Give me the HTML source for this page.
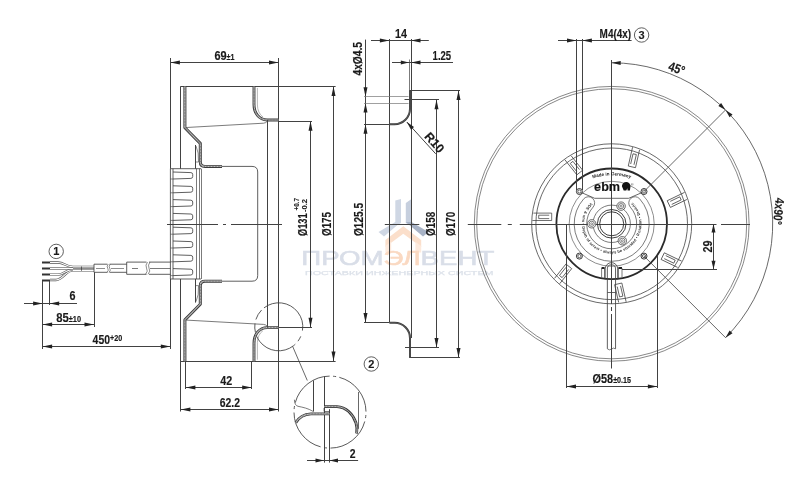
<!DOCTYPE html>
<html><head><meta charset="utf-8"><title>ebm drawing</title>
<style>
html,body{margin:0;padding:0;background:#fff;}
body{width:800px;height:477px;overflow:hidden;}
svg{display:block;font-family:"Liberation Sans",sans-serif;will-change:transform;opacity:0.999;}
</style></head><body>
<svg width="800" height="477" viewBox="0 0 800 477">
<rect width="800" height="477" fill="#ffffff"/>
<g opacity="1">
<polygon points="395.3,200.5 401,199 401,223 395.3,226" fill="#cfd7e4"/>
<polygon points="405.8,203 411.5,199 411.5,226 405.8,223" fill="#c6cfde"/>
<polygon points="395.3,222 401,222 384,236.5 378.5,232" fill="#cfd7e4"/>
<polygon points="405.8,222 411.5,222 428.5,232 423,236.5" fill="#a8b3c6"/>
<path d="M403.3,226.2 L421.2,240 V247 L403.3,233.8 L385.4,247 V240 Z" fill="#fbdfcb"/>
<path d="M385.4,246 L391.2,241.8 V252.5 H385.4 Z M421.2,246 L415.4,241.8 V252.5 H421.2 Z" fill="#fdeadd"/>
<text x="301.3" y="265.1" font-size="20.5" textLength="193" lengthAdjust="spacingAndGlyphs" fill="#d9dee8" stroke="#d9dee8" stroke-width="0.6" font-weight="normal"><tspan>ПРОМ</tspan><tspan fill="#fad9c2" stroke="#fad9c2">ЭЛ</tspan><tspan>ВЕНТ</tspan></text>
<text x="305" y="275.3" font-size="6.2" textLength="188.5" lengthAdjust="spacingAndGlyphs" fill="#dde2ea" stroke="#dde2ea" stroke-width="0.25" font-weight="normal">ПОСТАВКИ ИНЖЕНЕРНЫХ СИСТЕМ</text>
</g>
<line x1="170.5" y1="58" x2="170.5" y2="168.7" stroke="#424242" stroke-width="1.0" />
<line x1="278.5" y1="58" x2="278.5" y2="411.5" stroke="#424242" stroke-width="1.0" />
<line x1="170.4" y1="62.5" x2="278.5" y2="62.5" stroke="#424242" stroke-width="1.0" />
<polygon points="170.40,62.50 179.90,60.50 179.90,64.50" fill="#222"/>
<polygon points="278.50,62.50 269.00,64.50 269.00,60.50" fill="#222"/>
<text x="214.5" y="59.8" font-size="13" text-anchor="start" font-weight="bold" fill="#1a1a1a" stroke="#1a1a1a" stroke-width="0.16" textLength="20" lengthAdjust="spacingAndGlyphs" >69<tspan font-size="8.5" font-weight="bold">±1</tspan></text>
<line x1="180.5" y1="86.5" x2="335.6" y2="86.5" stroke="#424242" stroke-width="1.0" />
<line x1="180.5" y1="361.5" x2="335.6" y2="361.5" stroke="#424242" stroke-width="1.0" />
<line x1="180.5" y1="86.4" x2="180.5" y2="168.7" stroke="#424242" stroke-width="1.0" />
<line x1="180.5" y1="279" x2="180.5" y2="361.1" stroke="#424242" stroke-width="1.0" />
<path d="M184.9,86.4 V127.70 L200.3,143.40 V162.00 Q200.3,166.40 205,166.40 H222" stroke="#3a3a3a" stroke-width="3.0" fill="none" stroke-linejoin="round"/>
<path d="M184.9,86.4 V127.70 L200.3,143.40 V162.00 Q200.3,166.40 205,166.40 H222" stroke="#cfcfcf" stroke-width="1.2" fill="none" stroke-linejoin="round"/>
<path d="M184.9,86.4 V127.70 L200.3,143.40 V162.00 Q200.3,166.40 205,166.40 H222" stroke="#6a6a6a" stroke-width="1.2" fill="none" stroke-linejoin="round" stroke-dasharray="0.7 0.8"/>
<line x1="195.5" y1="145.0" x2="195.5" y2="168.7" stroke="#424242" stroke-width="1.0" />
<path d="M196,146.00 Q199,152.00 198.5,162.00 H196" stroke="#424242" stroke-width="0.6" fill="none" />
<path d="M186.3,127.50 L263.5,123.20 Q266,123.00 267.3,121.20" stroke="#424242" stroke-width="0.7" fill="none" />
<path d="M254,86.4 V104.40 C254,113.00 259,120.00 267.2,120.00 H278.5" stroke="#3a3a3a" stroke-width="2.9" fill="none" stroke-linejoin="round"/>
<path d="M254,86.4 V104.40 C254,113.00 259,120.00 267.2,120.00 H278.5" stroke="#cfcfcf" stroke-width="1.0999999999999999" fill="none" stroke-linejoin="round"/>
<path d="M254,86.4 V104.40 C254,113.00 259,120.00 267.2,120.00 H278.5" stroke="#6a6a6a" stroke-width="1.0999999999999999" fill="none" stroke-linejoin="round" stroke-dasharray="0.7 0.8"/>
<path d="M257.4,87.90 V105.00 Q257.6,113.00 263,117.00" stroke="#888" stroke-width="0.6" fill="none" />
<path d="M184.9,361.20000000000005 V319.90 L200.3,304.20 V285.60 Q200.3,281.20 205,281.20 H222" stroke="#3a3a3a" stroke-width="3.0" fill="none" stroke-linejoin="round"/>
<path d="M184.9,361.20000000000005 V319.90 L200.3,304.20 V285.60 Q200.3,281.20 205,281.20 H222" stroke="#cfcfcf" stroke-width="1.2" fill="none" stroke-linejoin="round"/>
<path d="M184.9,361.20000000000005 V319.90 L200.3,304.20 V285.60 Q200.3,281.20 205,281.20 H222" stroke="#6a6a6a" stroke-width="1.2" fill="none" stroke-linejoin="round" stroke-dasharray="0.7 0.8"/>
<line x1="195.5" y1="302.6" x2="195.5" y2="278.90000000000003" stroke="#424242" stroke-width="1.0" />
<path d="M196,301.60 Q199,295.60 198.5,285.60 H196" stroke="#424242" stroke-width="0.6" fill="none" />
<path d="M186.3,320.10 L263.5,324.40 Q266,324.60 267.3,326.40" stroke="#424242" stroke-width="0.7" fill="none" />
<path d="M254,361.20000000000005 V343.20 C254,334.60 259,327.60 267.2,327.60 H278.5" stroke="#3a3a3a" stroke-width="2.9" fill="none" stroke-linejoin="round"/>
<path d="M254,361.20000000000005 V343.20 C254,334.60 259,327.60 267.2,327.60 H278.5" stroke="#cfcfcf" stroke-width="1.0999999999999999" fill="none" stroke-linejoin="round"/>
<path d="M254,361.20000000000005 V343.20 C254,334.60 259,327.60 267.2,327.60 H278.5" stroke="#6a6a6a" stroke-width="1.0999999999999999" fill="none" stroke-linejoin="round" stroke-dasharray="0.7 0.8"/>
<path d="M257.4,359.70 V342.60 Q257.6,334.60 263,330.60" stroke="#888" stroke-width="0.6" fill="none" />
<line x1="278.5" y1="121.5" x2="312" y2="121.5" stroke="#424242" stroke-width="1.0" />
<line x1="278.5" y1="327.5" x2="312" y2="327.5" stroke="#424242" stroke-width="1.0" />
<path d="M222,166.4 H252 Q257.7,166.4 257.7,172 V275.6 Q257.7,281.2 252,281.2 H222" stroke="#424242" stroke-width="0.85" fill="none" />
<line x1="267.5" y1="120" x2="267.5" y2="327.6" stroke="#424242" stroke-width="1.0" />
<path d="M170.4,168.7 H201 M170.4,279 H201 M170.4,168.7 V279 M173,168.7 V279" stroke="#424242" stroke-width="0.85" fill="none" />
<line x1="196.5" y1="168.7" x2="196.5" y2="279" stroke="#424242" stroke-width="0.7" />
<line x1="199.5" y1="168.7" x2="199.5" y2="279" stroke="#424242" stroke-width="0.7" />
<line x1="201.5" y1="168.7" x2="201.5" y2="279" stroke="#424242" stroke-width="0.7" />
<path d="M173,172.00 L190.9,172.60 Q192.7,172.80 192.7,174.40 V176.60 Q192.7,178.20 190.9,178.40 L173,179.00" stroke="#424242" stroke-width="0.85" fill="none" />
<path d="M170.4,179.00 H173" stroke="#424242" stroke-width="0.6" fill="none" />
<path d="M173,185.80 L190.9,186.40 Q192.7,186.60 192.7,188.20 V190.40 Q192.7,192.00 190.9,192.20 L173,192.80" stroke="#424242" stroke-width="0.85" fill="none" />
<path d="M170.4,192.80 H173" stroke="#424242" stroke-width="0.6" fill="none" />
<path d="M173,199.60 L190.9,200.20 Q192.7,200.40 192.7,202.00 V204.20 Q192.7,205.80 190.9,206.00 L173,206.60" stroke="#424242" stroke-width="0.85" fill="none" />
<path d="M170.4,206.60 H173" stroke="#424242" stroke-width="0.6" fill="none" />
<path d="M173,213.40 L190.9,214.00 Q192.7,214.20 192.7,215.80 V218.00 Q192.7,219.60 190.9,219.80 L173,220.40" stroke="#424242" stroke-width="0.85" fill="none" />
<path d="M170.4,220.40 H173" stroke="#424242" stroke-width="0.6" fill="none" />
<path d="M173,227.20 L190.9,227.80 Q192.7,228.00 192.7,229.60 V231.80 Q192.7,233.40 190.9,233.60 L173,234.20" stroke="#424242" stroke-width="0.85" fill="none" />
<path d="M170.4,234.20 H173" stroke="#424242" stroke-width="0.6" fill="none" />
<path d="M173,241.00 L190.9,241.60 Q192.7,241.80 192.7,243.40 V245.60 Q192.7,247.20 190.9,247.40 L173,248.00" stroke="#424242" stroke-width="0.85" fill="none" />
<path d="M170.4,248.00 H173" stroke="#424242" stroke-width="0.6" fill="none" />
<path d="M173,254.80 L190.9,255.40 Q192.7,255.60 192.7,257.20 V259.40 Q192.7,261.00 190.9,261.20 L173,261.80" stroke="#424242" stroke-width="0.85" fill="none" />
<path d="M170.4,261.80 H173" stroke="#424242" stroke-width="0.6" fill="none" />
<path d="M173,268.60 L190.9,269.20 Q192.7,269.40 192.7,271.00 V273.20 Q192.7,274.80 190.9,275.00 L173,275.60" stroke="#424242" stroke-width="0.85" fill="none" />
<path d="M170.4,275.60 H173" stroke="#424242" stroke-width="0.6" fill="none" />
<line x1="167" y1="224.5" x2="282" y2="224.5" stroke="#424242" stroke-width="1.0" stroke-dasharray="51 5 3 5 200"/>
<line x1="310.5" y1="121.3" x2="310.5" y2="327.2" stroke="#424242" stroke-width="1.0" />
<polygon points="310.50,121.30 312.50,130.80 308.50,130.80" fill="#222"/>
<polygon points="310.50,327.20 308.50,317.70 312.50,317.70" fill="#222"/>
<line x1="333.5" y1="86.4" x2="333.5" y2="361.1" stroke="#424242" stroke-width="1.0" />
<polygon points="333.50,86.40 335.50,95.90 331.50,95.90" fill="#222"/>
<polygon points="333.50,361.10 331.50,351.60 335.50,351.60" fill="#222"/>
<text x="307.4" y="236" font-size="12.5" text-anchor="start" font-weight="bold" fill="#1a1a1a" stroke="#1a1a1a" stroke-width="0.15" transform="rotate(-90 307.4 236)" textLength="22.6" lengthAdjust="spacingAndGlyphs" >Ø131</text>
<text x="298.6" y="210.5" font-size="8" text-anchor="start" font-weight="bold" fill="#1a1a1a" stroke="#1a1a1a" stroke-width="0.1" transform="rotate(-90 298.6 210.5)" textLength="12.6" lengthAdjust="spacingAndGlyphs" >+0.7</text>
<text x="307.4" y="212" font-size="8" text-anchor="start" font-weight="bold" fill="#1a1a1a" stroke="#1a1a1a" stroke-width="0.1" transform="rotate(-90 307.4 212)" textLength="13" lengthAdjust="spacingAndGlyphs" >-0.2</text>
<text x="331" y="236" font-size="12.5" text-anchor="start" font-weight="bold" fill="#1a1a1a" stroke="#1a1a1a" stroke-width="0.15" transform="rotate(-90 331 236)" textLength="24" lengthAdjust="spacingAndGlyphs" >Ø175</text>
<line x1="185.5" y1="361.1" x2="185.5" y2="389" stroke="#424242" stroke-width="1.0" />
<line x1="251.5" y1="361.1" x2="251.5" y2="389" stroke="#424242" stroke-width="1.0" />
<line x1="185.9" y1="387.5" x2="251.7" y2="387.5" stroke="#424242" stroke-width="1.0" />
<polygon points="185.90,387.50 195.40,385.50 195.40,389.50" fill="#222"/>
<polygon points="251.70,387.50 242.20,389.50 242.20,385.50" fill="#222"/>
<text x="226.3" y="384.9" font-size="13" text-anchor="middle" font-weight="bold" fill="#1a1a1a" stroke="#1a1a1a" stroke-width="0.16" textLength="12" lengthAdjust="spacingAndGlyphs" >42</text>
<line x1="180.5" y1="361.1" x2="180.5" y2="411.5" stroke="#424242" stroke-width="1.0" />
<line x1="180.9" y1="409.5" x2="278.5" y2="409.5" stroke="#424242" stroke-width="1.0" />
<polygon points="180.90,409.50 190.40,407.50 190.40,411.50" fill="#222"/>
<polygon points="278.50,409.50 269.00,411.50 269.00,407.50" fill="#222"/>
<text x="229.9" y="406.9" font-size="13" text-anchor="middle" font-weight="bold" fill="#1a1a1a" stroke="#1a1a1a" stroke-width="0.16" textLength="20.3" lengthAdjust="spacingAndGlyphs" >62.2</text>
<line x1="42" y1="262.5" x2="50" y2="262.5" stroke="#333" stroke-width="2.0" />
<line x1="42" y1="268.5" x2="50" y2="268.5" stroke="#333" stroke-width="2.0" />
<line x1="42" y1="274.5" x2="50" y2="274.5" stroke="#333" stroke-width="2.0" />
<line x1="42" y1="280.5" x2="50" y2="280.5" stroke="#333" stroke-width="2.0" />
<path d="M50,262.5 H58 C64,262.5 66,266.9 73,266.9 H94" stroke="#555" stroke-width="2.3" fill="none" />
<path d="M50,262.5 H58 C64,262.5 66,266.9 73,266.9 H94" stroke="#fff" stroke-width="1.1" fill="none" />
<path d="M50,280 H56 C63,280 66,270.4 73,270.4 H94" stroke="#555" stroke-width="2.3" fill="none" />
<path d="M50,280 H56 C63,280 66,270.4 73,270.4 H94" stroke="#fff" stroke-width="1.1" fill="none" />
<path d="M50,274.6 H58 C64,274.6 66,269.4 73,269.4" stroke="#555" stroke-width="2.3" fill="none" />
<path d="M50,274.6 H58 C64,274.6 66,269.4 73,269.4" stroke="#fff" stroke-width="1.1" fill="none" />
<path d="M50,268.5 H73" stroke="#555" stroke-width="2.3" fill="none" />
<path d="M50,268.5 H73" stroke="#fff" stroke-width="1.1" fill="none" />
<line x1="73" y1="268.5" x2="94" y2="268.5" stroke="#424242" stroke-width="0.6" />
<line x1="81.5" y1="266.5" x2="81.5" y2="270.8" stroke="#424242" stroke-width="0.8" />
<path d="M94,264.2 H107.5 M109.5,264.2 H126.7 M94,272.3 H107.5 M109.5,272.3 H126.7 M94,264.2 V272.3" stroke="#424242" stroke-width="0.85" fill="none" />
<path d="M108.3,264.2 q-2,2 -0.6,4 q1.5,2 -0.6,4.1 M110.3,264.2 q-2,2 -0.6,4 q1.5,2 -0.6,4.1" stroke="#424242" stroke-width="0.6" fill="none" />
<line x1="96" y1="268.5" x2="105" y2="268.5" stroke="#424242" stroke-width="0.6" />
<line x1="111" y1="268.5" x2="124" y2="268.5" stroke="#424242" stroke-width="0.6" />
<path d="M126.7,262.1 H146.5 M149,262.1 H170.6 M126.7,274.3 H146.5 M149,274.3 H170.6 M126.7,262.1 V274.3" stroke="#424242" stroke-width="0.85" fill="none" />
<path d="M147.5,262.1 q-2.5,3 -1,6 q2,3 -1,6.2 M150,262.1 q-2.5,3 -1,6 q2,3 -1,6.2" stroke="#424242" stroke-width="0.6" fill="none" />
<line x1="132" y1="268.5" x2="138" y2="268.5" stroke="#424242" stroke-width="0.7" />
<line x1="150" y1="268.5" x2="170.6" y2="268.5" stroke="#424242" stroke-width="0.7" />
<line x1="42.5" y1="281" x2="42.5" y2="349" stroke="#424242" stroke-width="1.0" />
<line x1="49.5" y1="281" x2="49.5" y2="305" stroke="#424242" stroke-width="1.0" />
<line x1="24" y1="303.5" x2="77" y2="303.5" stroke="#424242" stroke-width="1.0" />
<polygon points="42.60,303.50 33.10,305.50 33.10,301.50" fill="#222"/>
<polygon points="49.70,303.50 59.20,301.50 59.20,305.50" fill="#222"/>
<text x="72.5" y="300.3" font-size="13" text-anchor="middle" font-weight="bold" fill="#1a1a1a" stroke="#1a1a1a" stroke-width="0.16" textLength="6" lengthAdjust="spacingAndGlyphs" >6</text>
<line x1="94.5" y1="272.3" x2="94.5" y2="327" stroke="#424242" stroke-width="1.0" />
<line x1="42.6" y1="324.5" x2="94" y2="324.5" stroke="#424242" stroke-width="1.0" />
<polygon points="42.60,324.50 52.10,322.50 52.10,326.50" fill="#222"/>
<polygon points="94.00,324.50 84.50,326.50 84.50,322.50" fill="#222"/>
<text x="56.2" y="322.2" font-size="13" text-anchor="start" font-weight="bold" fill="#1a1a1a" stroke="#1a1a1a" stroke-width="0.16" textLength="24.8" lengthAdjust="spacingAndGlyphs" >85<tspan font-size="8.5" font-weight="bold">±10</tspan></text>
<line x1="170.5" y1="279" x2="170.5" y2="349" stroke="#424242" stroke-width="1.0" />
<line x1="42.6" y1="346.5" x2="170.3" y2="346.5" stroke="#424242" stroke-width="1.0" />
<polygon points="42.60,346.50 52.10,344.50 52.10,348.50" fill="#222"/>
<polygon points="170.30,346.50 160.80,348.50 160.80,344.50" fill="#222"/>
<text x="92.6" y="344.2" font-size="13" text-anchor="start" font-weight="bold" fill="#1a1a1a" stroke="#1a1a1a" stroke-width="0.16" textLength="29.6" lengthAdjust="spacingAndGlyphs" >450<tspan font-size="9" dy="-3.5">+20</tspan></text>
<circle cx="56.2" cy="251.4" r="7.2" stroke="#424242" stroke-width="0.85" fill="none" />
<text x="56.2" y="255.4" font-size="11" text-anchor="middle" font-weight="bold" fill="#1a1a1a" stroke="#1a1a1a" stroke-width="0.13" >1</text>
<circle cx="278.75" cy="326.8" r="24" stroke="#424242" stroke-width="0.8" fill="none" stroke-dasharray="57 6 5.5 4 46 4 9 4 11 4.3" transform="rotate(232 278.75 326.8)"/>
<line x1="292.6" y1="346.3" x2="307.3" y2="380.5" stroke="#424242" stroke-width="0.8" />
<circle cx="330" cy="412.1" r="36" stroke="#424242" stroke-width="0.8" fill="none" stroke-dasharray="46.5 3.5 3 3.5" transform="rotate(285 330 412.1)"/>
<line x1="313.5" y1="380.5" x2="313.5" y2="411.5" stroke="#424242" stroke-width="1.0" />
<line x1="324.5" y1="376.6" x2="324.5" y2="462.6" stroke="#424242" stroke-width="1.0" />
<line x1="329.5" y1="409.2" x2="329.5" y2="462.6" stroke="#424242" stroke-width="1.0" />
<path d="M324,406.6 H337 C346,407 353,414 356,423 C357.2,427 357.3,430 356.6,433.5" stroke="#3a3a3a" stroke-width="2.8" fill="none" stroke-linejoin="round"/>
<path d="M324,406.6 H337 C346,407 353,414 356,423 C357.2,427 357.3,430 356.6,433.5" stroke="#cfcfcf" stroke-width="0.9999999999999998" fill="none" stroke-linejoin="round"/>
<path d="M324,406.6 H337 C346,407 353,414 356,423 C357.2,427 357.3,430 356.6,433.5" stroke="#6a6a6a" stroke-width="0.9999999999999998" fill="none" stroke-linejoin="round" stroke-dasharray="0.7 0.8"/>
<path d="M329.5,413.9 H311 C304,414.3 298.5,418 295.7,422.8" stroke="#3a3a3a" stroke-width="2.9" fill="none" stroke-linejoin="round"/>
<path d="M329.5,413.9 H311 C304,414.3 298.5,418 295.7,422.8" stroke="#cfcfcf" stroke-width="1.0999999999999999" fill="none" stroke-linejoin="round"/>
<path d="M329.5,413.9 H311 C304,414.3 298.5,418 295.7,422.8" stroke="#6a6a6a" stroke-width="1.0999999999999999" fill="none" stroke-linejoin="round" stroke-dasharray="0.7 0.8"/>
<path d="M324,408 V411.5 H329.5" stroke="#424242" stroke-width="0.7" fill="none" />
<path d="M294.4,399.7 Q294.6,405.5 298,406.3 C303,407.3 308,408.3 313.3,411.5" stroke="#424242" stroke-width="0.7" fill="none" />
<line x1="358.5" y1="392" x2="358.5" y2="428.8" stroke="#424242" stroke-width="0.8" />
<line x1="307" y1="460.5" x2="358.1" y2="460.5" stroke="#424242" stroke-width="1.0" />
<polygon points="324.00,460.50 315.50,462.50 315.50,458.50" fill="#222"/>
<polygon points="329.50,460.50 338.00,458.50 338.00,462.50" fill="#222"/>
<text x="352.6" y="457.9" font-size="13" text-anchor="middle" font-weight="bold" fill="#1a1a1a" stroke="#1a1a1a" stroke-width="0.16" textLength="5.8" lengthAdjust="spacingAndGlyphs" >2</text>
<circle cx="371.3" cy="364" r="7.2" stroke="#424242" stroke-width="0.85" fill="none" />
<text x="371.3" y="368" font-size="11" text-anchor="middle" font-weight="bold" fill="#1a1a1a" stroke="#1a1a1a" stroke-width="0.13" >2</text>
<line x1="389.5" y1="39" x2="389.5" y2="322.6" stroke="#424242" stroke-width="1.0" />
<line x1="411.5" y1="39" x2="411.5" y2="338" stroke="#424242" stroke-width="1.0" />
<line x1="371" y1="40.5" x2="428.8" y2="40.5" stroke="#424242" stroke-width="1.0" />
<polygon points="389.40,40.50 379.90,42.50 379.90,38.50" fill="#222"/>
<polygon points="411.00,40.50 420.50,38.50 420.50,42.50" fill="#222"/>
<text x="401" y="38" font-size="13" text-anchor="middle" font-weight="bold" fill="#1a1a1a" stroke="#1a1a1a" stroke-width="0.16" textLength="12" lengthAdjust="spacingAndGlyphs" >14</text>
<line x1="392" y1="62.5" x2="453" y2="62.5" stroke="#424242" stroke-width="1.0" />
<polygon points="408.80,62.50 400.80,64.50 400.80,60.50" fill="#222"/>
<polygon points="411.00,62.50 420.50,60.50 420.50,64.50" fill="#222"/>
<text x="432.6" y="59.8" font-size="13" text-anchor="start" font-weight="bold" fill="#1a1a1a" stroke="#1a1a1a" stroke-width="0.16" textLength="18.6" lengthAdjust="spacingAndGlyphs" >1.25</text>
<line x1="409.5" y1="59.5" x2="409.5" y2="90.4" stroke="#424242" stroke-width="0.7" />
<path d="M410,90.4 V109 A15.4,15.4 0 0 1 394.6,124.2 H389.4" stroke="#3a3a3a" stroke-width="2.0" fill="none" stroke-linejoin="round"/>
<path d="M410,90.4 V109 A15.4,15.4 0 0 1 394.6,124.2 H389.4" stroke="#cfcfcf" stroke-width="0.19999999999999996" fill="none" stroke-linejoin="round"/>
<path d="M410,90.4 V109 A15.4,15.4 0 0 1 394.6,124.2 H389.4" stroke="#6a6a6a" stroke-width="0.19999999999999996" fill="none" stroke-linejoin="round" stroke-dasharray="0.7 0.8"/>
<path d="M410,357.5 V338.2 A15.4,15.4 0 0 0 394.6,322.8 H389.4" stroke="#3a3a3a" stroke-width="2.0" fill="none" stroke-linejoin="round"/>
<path d="M410,357.5 V338.2 A15.4,15.4 0 0 0 394.6,322.8 H389.4" stroke="#cfcfcf" stroke-width="0.19999999999999996" fill="none" stroke-linejoin="round"/>
<path d="M410,357.5 V338.2 A15.4,15.4 0 0 0 394.6,322.8 H389.4" stroke="#6a6a6a" stroke-width="0.19999999999999996" fill="none" stroke-linejoin="round" stroke-dasharray="0.7 0.8"/>
<line x1="364" y1="124.5" x2="389.4" y2="124.5" stroke="#424242" stroke-width="1.0" />
<line x1="364" y1="322.5" x2="389.4" y2="322.5" stroke="#424242" stroke-width="1.0" />
<line x1="365.5" y1="39.6" x2="365.5" y2="322.6" stroke="#424242" stroke-width="1.0" />
<polygon points="365.50,96.70 363.50,87.20 367.50,87.20" fill="#222"/>
<polygon points="365.50,103.00 367.50,112.50 363.50,112.50" fill="#222"/>
<polygon points="365.50,124.30 367.50,133.80 363.50,133.80" fill="#222"/>
<polygon points="365.50,322.60 363.50,313.10 367.50,313.10" fill="#222"/>
<line x1="364" y1="96.5" x2="408.5" y2="96.5" stroke="#777" stroke-width="0.7" />
<line x1="364" y1="103.5" x2="408.5" y2="103.5" stroke="#777" stroke-width="0.7" />
<text x="362.3" y="75.5" font-size="12.5" text-anchor="start" font-weight="bold" fill="#1a1a1a" stroke="#1a1a1a" stroke-width="0.15" transform="rotate(-90 362.3 75.5)" textLength="33.5" lengthAdjust="spacingAndGlyphs" >4xØ4.5</text>
<text x="363.3" y="236" font-size="12.5" text-anchor="start" font-weight="bold" fill="#1a1a1a" stroke="#1a1a1a" stroke-width="0.15" transform="rotate(-90 363.3 236)" textLength="33" lengthAdjust="spacingAndGlyphs" >Ø125.5</text>
<line x1="404.5" y1="99.5" x2="439" y2="99.5" stroke="#424242" stroke-width="1.0" />
<line x1="405" y1="347.5" x2="439" y2="347.5" stroke="#424242" stroke-width="1.0" />
<line x1="436.5" y1="99.75" x2="436.5" y2="347.5" stroke="#424242" stroke-width="1.0" />
<polygon points="436.50,99.75 438.50,109.25 434.50,109.25" fill="#222"/>
<polygon points="436.50,347.50 434.50,338.00 438.50,338.00" fill="#222"/>
<text x="435" y="236" font-size="12.5" text-anchor="start" font-weight="bold" fill="#1a1a1a" stroke="#1a1a1a" stroke-width="0.15" transform="rotate(-90 435 236)" textLength="24.3" lengthAdjust="spacingAndGlyphs" >Ø158</text>
<line x1="409.2" y1="90.5" x2="460" y2="90.5" stroke="#424242" stroke-width="1.0" />
<line x1="409.2" y1="357.5" x2="460" y2="357.5" stroke="#424242" stroke-width="1.0" />
<line x1="458.5" y1="90.4" x2="458.5" y2="357.5" stroke="#424242" stroke-width="1.0" />
<polygon points="458.50,90.40 460.50,99.90 456.50,99.90" fill="#222"/>
<polygon points="458.50,357.50 456.50,348.00 460.50,348.00" fill="#222"/>
<text x="454.6" y="236" font-size="12.5" text-anchor="start" font-weight="bold" fill="#1a1a1a" stroke="#1a1a1a" stroke-width="0.15" transform="rotate(-90 454.6 236)" textLength="24.3" lengthAdjust="spacingAndGlyphs" >Ø170</text>
<line x1="384.8" y1="224.5" x2="419.3" y2="224.5" stroke="#424242" stroke-width="1.0" />
<line x1="406.8" y1="122" x2="435.7" y2="153.8" stroke="#424242" stroke-width="1.0" />
<polygon points="406.80,122.00 413.99,126.95 411.03,129.64" fill="#222"/>
<text x="423.8" y="137" font-size="12.5" text-anchor="start" font-weight="bold" fill="#1a1a1a" stroke="#1a1a1a" stroke-width="0.15" transform="rotate(48.3 423.8 137)" textLength="22.5" lengthAdjust="spacingAndGlyphs" >R10</text>
<circle cx="611.7" cy="223.8" r="137.4" stroke="#555" stroke-width="0.7" fill="none" />
<circle cx="611.7" cy="223.8" r="135.0" stroke="#555" stroke-width="0.7" fill="none" />
<circle cx="611.7" cy="223.8" r="80" stroke="#424242" stroke-width="0.8" fill="none" />
<circle cx="611.7" cy="223.8" r="75.8" stroke="#424242" stroke-width="0.8" fill="none" />
<circle cx="611.7" cy="223.8" r="55.3" stroke="#2a2a2a" stroke-width="1.8" fill="none" />
<circle cx="611.7" cy="223.8" r="42.5" stroke="#424242" stroke-width="0.6" fill="none" />
<line x1="467.8" y1="224.5" x2="716.5" y2="224.5" stroke="#424242" stroke-width="1.0" stroke-dasharray="33.5 6.5 4 8 300"/>
<line x1="721" y1="224.5" x2="750" y2="224.5" stroke="#424242" stroke-width="1.0" />
<line x1="611.5" y1="60" x2="611.5" y2="264" stroke="#424242" stroke-width="1.0" />
<line x1="611.5" y1="264" x2="611.5" y2="368.5" stroke="#424242" stroke-width="1.0" stroke-dasharray="40 3 4 3 100"/>
<g transform="rotate(-180.00 611.7 223.8)">
<path d="M671.7,227.10000000000002 H691.0 M671.7,234.5 H690.0 M671.7,227.10000000000002 V234.5 M674.2,229.0 H684.7 V232.4 H674.2" stroke="#424242" stroke-width="0.75" fill="none" />
</g>
<g transform="rotate(-128.57 611.7 223.8)">
<path d="M671.7,227.10000000000002 H691.0 M671.7,234.5 H690.0 M671.7,227.10000000000002 V234.5 M674.2,229.0 H684.7 V232.4 H674.2" stroke="#424242" stroke-width="0.75" fill="none" />
</g>
<g transform="rotate(-77.14 611.7 223.8)">
<path d="M671.7,227.10000000000002 H691.0 M671.7,234.5 H690.0 M671.7,227.10000000000002 V234.5 M674.2,229.0 H684.7 V232.4 H674.2" stroke="#424242" stroke-width="0.75" fill="none" />
</g>
<g transform="rotate(-25.71 611.7 223.8)">
<path d="M671.7,227.10000000000002 H691.0 M671.7,234.5 H690.0 M671.7,227.10000000000002 V234.5 M674.2,229.0 H684.7 V232.4 H674.2" stroke="#424242" stroke-width="0.75" fill="none" />
</g>
<g transform="rotate(25.71 611.7 223.8)">
<path d="M671.7,227.10000000000002 H691.0 M671.7,234.5 H690.0 M671.7,227.10000000000002 V234.5 M674.2,229.0 H684.7 V232.4 H674.2" stroke="#424242" stroke-width="0.75" fill="none" />
</g>
<g transform="rotate(77.14 611.7 223.8)">
<path d="M671.7,227.10000000000002 H691.0 M671.7,234.5 H690.0 M671.7,227.10000000000002 V234.5 M674.2,229.0 H684.7 V232.4 H674.2" stroke="#424242" stroke-width="0.75" fill="none" />
</g>
<g transform="rotate(128.57 611.7 223.8)">
<path d="M671.7,227.10000000000002 H691.0 M671.7,234.5 H690.0 M671.7,227.10000000000002 V234.5 M674.2,229.0 H684.7 V232.4 H674.2" stroke="#424242" stroke-width="0.75" fill="none" />
</g>
<circle cx="579.4000000000001" cy="191.5" r="3" stroke="#222" stroke-width="0.9" fill="none" />
<circle cx="579.4000000000001" cy="191.5" r="1.6" stroke="#222" stroke-width="0.7" fill="none" />
<circle cx="579.4000000000001" cy="256.1" r="3" stroke="#222" stroke-width="0.9" fill="none" />
<circle cx="579.4000000000001" cy="256.1" r="1.6" stroke="#222" stroke-width="0.7" fill="none" />
<circle cx="644.0" cy="191.5" r="3" stroke="#222" stroke-width="0.9" fill="none" />
<circle cx="644.0" cy="191.5" r="1.6" stroke="#222" stroke-width="0.7" fill="none" />
<circle cx="644.0" cy="256.1" r="3" stroke="#222" stroke-width="0.9" fill="none" />
<circle cx="644.0" cy="256.1" r="1.6" stroke="#222" stroke-width="0.7" fill="none" />
<path d="M581.5,192.60000000000002 L594.7,198.3 H628.7 L641.9000000000001,192.60000000000002" stroke="#424242" stroke-width="0.8" fill="none" />
<path id="mig" d="M592.2,178.60000000000002 A 60,60 0 0 1 631.2,178.60000000000002" fill="none"/>
<text font-size="4.6" font-weight="bold" fill="#222"><textPath href="#mig" startOffset="50%" text-anchor="middle">Made in Germany</textPath></text>
<text x="594.1" y="191" font-size="12.8" text-anchor="start" font-weight="bold" fill="#111" stroke="#111" stroke-width="0.15" textLength="26" lengthAdjust="spacingAndGlyphs" >ebm</text>
<path d="M621.9000000000001,186.3 a4.3,4.3 0 1 1 8.6,0 l-0.6,4.2 h-2.3 l-0.3,-2.2 l-1,2.2 h-2.6 Z" fill="#111"/>
<text x="631.0" y="185.8" font-size="3.5" fill="#222">®</text>
<path d="M583.83,198.71 A37.5,37.5 0 1 0 639.57,198.71 A6.25,6.25 0 0 0 630.28,207.07 A25,25 0 1 1 593.12,207.07 A6.25,6.25 0 0 0 583.83,198.71 Z" stroke="#424242" stroke-width="0.7" fill="none" />
<path id="ring" d="M591.76,201.65 A29.8,29.8 0 1 0 631.64,201.65" fill="none"/>
<text font-size="3.9" font-weight="bold" fill="#333" letter-spacing="0.2"><textPath href="#ring" startOffset="1%">VDE &amp; nnn • Depth of screw • always be shielded • Rotation • Drehrichtung</textPath></text>
<circle cx="611.7" cy="223.8" r="18.7" stroke="#424242" stroke-width="0.7" fill="none" />
<circle cx="611.7" cy="223.8" r="14.3" stroke="#2a2a2a" stroke-width="0.9" fill="none" />
<circle cx="611.7" cy="223.8" r="12" stroke="#2a2a2a" stroke-width="0.9" fill="none" />
<circle cx="621.09" cy="206.14" r="4.2" stroke="#424242" stroke-width="0.8" fill="#fff" />
<circle cx="621.09" cy="206.14" r="2.6" stroke="#424242" stroke-width="0.7" fill="none" />
<circle cx="621.09" cy="206.14" r="1.0" stroke="#424242" stroke-width="0.6" fill="none" />
<circle cx="591.7" cy="223.8" r="4.2" stroke="#424242" stroke-width="0.8" fill="#fff" />
<circle cx="591.7" cy="223.8" r="2.6" stroke="#424242" stroke-width="0.7" fill="none" />
<circle cx="591.7" cy="223.8" r="1.0" stroke="#424242" stroke-width="0.6" fill="none" />
<circle cx="622.3" cy="240.76" r="4.2" stroke="#424242" stroke-width="0.8" fill="#fff" />
<circle cx="622.3" cy="240.76" r="2.6" stroke="#424242" stroke-width="0.7" fill="none" />
<circle cx="622.3" cy="240.76" r="1.0" stroke="#424242" stroke-width="0.6" fill="none" />
<path d="M605.2,279.5 V268.9 A6.25,6.25 0 0 1 617.7,268.9 V279.5" stroke="#424242" stroke-width="0.85" fill="none" />
<path d="M607.35,348.8 V268.9 A4.1,4.1 0 0 1 615.5500000000001,268.9 V348.8" stroke="#424242" stroke-width="0.85" fill="none" />
<path d="M607.35,292.5 H615.5500000000001" stroke="#424242" stroke-width="0.8" fill="none" />
<path d="M607.35,348.8 q2,2 4.1,0.3 q2,-1.8 4.1,-0.3" stroke="#424242" stroke-width="0.7" fill="none" />
<rect x="601.6" y="267" width="3" height="2" fill="#222"/><rect x="618.4" y="267" width="3.6" height="2" fill="#222"/>
<path d="M601.6,268 V277.6 M604.5,268 V278.3 M618.4,268 V278.3 M622,268 V277.2" stroke="#424242" stroke-width="0.7" fill="none" />
<line x1="643.8" y1="191.7" x2="725.54" y2="109.96" stroke="#424242" stroke-width="0.8" />
<line x1="643.8" y1="255.9" x2="725.54" y2="337.64" stroke="#424242" stroke-width="0.8" />
<path d="M611.70,62.80 A161,161 0 0 1 725.54,337.64" stroke="#424242" stroke-width="0.8" fill="none" />
<polygon points="611.70,62.80 620.75,61.04 620.64,65.03" fill="#222"/>
<polygon points="725.54,109.96 718.36,105.90 721.12,103.00" fill="#222"/>
<polygon points="725.54,109.96 732.50,114.38 729.60,117.14" fill="#222"/>
<polygon points="725.54,337.64 729.60,330.46 732.50,333.22" fill="#222"/>
<text x="675.3" y="72.8" font-size="13" text-anchor="middle" font-weight="bold" fill="#1a1a1a" stroke="#1a1a1a" stroke-width="0.16" transform="rotate(19 675.3 72.8)" textLength="16.5" lengthAdjust="spacingAndGlyphs" >45°</text>
<text x="775.8" y="197.5" font-size="12.5" text-anchor="start" font-weight="bold" fill="#1a1a1a" stroke="#1a1a1a" stroke-width="0.15" transform="rotate(96 775.8 197.5)" textLength="27" lengthAdjust="spacingAndGlyphs" >4x90°</text>
<line x1="622" y1="269.5" x2="717" y2="269.5" stroke="#424242" stroke-width="1.0" />
<line x1="713.5" y1="224" x2="713.5" y2="269.3" stroke="#424242" stroke-width="1.0" />
<polygon points="713.50,224.00 715.50,232.50 711.50,232.50" fill="#222"/>
<polygon points="713.50,269.30 711.50,260.80 715.50,260.80" fill="#222"/>
<text x="712.2" y="252.5" font-size="12.5" text-anchor="start" font-weight="bold" fill="#1a1a1a" stroke="#1a1a1a" stroke-width="0.15" transform="rotate(-90 712.2 252.5)" textLength="12" lengthAdjust="spacingAndGlyphs" >29</text>
<line x1="566.5" y1="224" x2="566.5" y2="388" stroke="#424242" stroke-width="1.0" />
<line x1="657.5" y1="255.8" x2="657.5" y2="388" stroke="#424242" stroke-width="1.0" />
<line x1="566.5" y1="386.5" x2="657.4" y2="386.5" stroke="#424242" stroke-width="1.0" />
<polygon points="566.50,386.50 576.00,384.50 576.00,388.50" fill="#222"/>
<polygon points="657.40,386.50 647.90,388.50 647.90,384.50" fill="#222"/>
<text x="592.5" y="383.3" font-size="13" text-anchor="start" font-weight="bold" fill="#1a1a1a" stroke="#1a1a1a" stroke-width="0.16" textLength="38.5" lengthAdjust="spacingAndGlyphs" >Ø58<tspan font-size="8.5" font-weight="bold">±0.15</tspan></text>
<line x1="576.5" y1="39" x2="576.5" y2="190" stroke="#424242" stroke-width="1.0" />
<line x1="582.5" y1="39" x2="582.5" y2="190" stroke="#424242" stroke-width="1.0" />
<line x1="558" y1="40.5" x2="631.6" y2="40.5" stroke="#424242" stroke-width="1.0" />
<polygon points="576.50,40.50 567.00,42.50 567.00,38.50" fill="#222"/>
<polygon points="582.40,40.50 591.90,38.50 591.90,42.50" fill="#222"/>
<text x="599.6" y="38" font-size="12.5" text-anchor="start" font-weight="bold" fill="#1a1a1a" stroke="#1a1a1a" stroke-width="0.15" textLength="31.5" lengthAdjust="spacingAndGlyphs" >M4(4x)</text>
<circle cx="641.6" cy="35" r="7.2" stroke="#424242" stroke-width="0.85" fill="none" />
<text x="641.6" y="39" font-size="11" text-anchor="middle" font-weight="bold" fill="#1a1a1a" stroke="#1a1a1a" stroke-width="0.13" >3</text>
</svg>
</body></html>
